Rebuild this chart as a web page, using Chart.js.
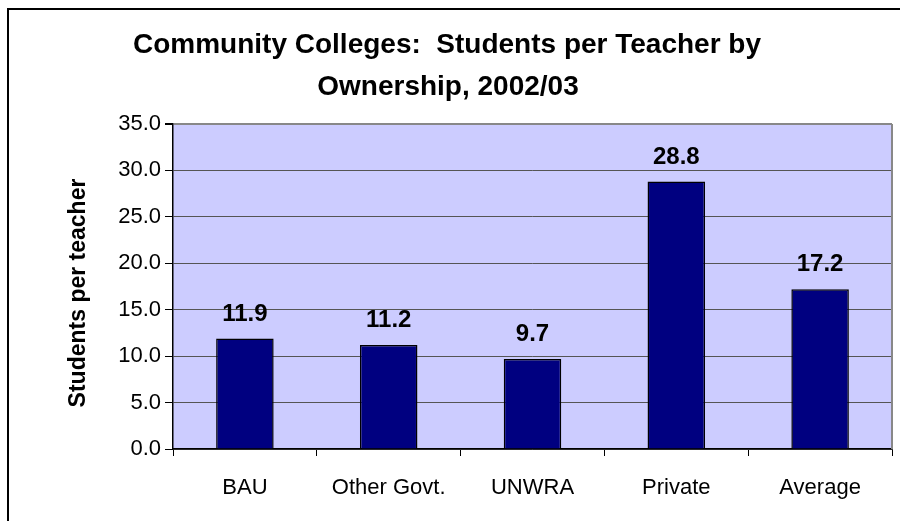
<!DOCTYPE html>
<html>
<head>
<meta charset="utf-8">
<title>Community Colleges: Students per Teacher by Ownership, 2002/03</title>
<script src="https://cdn.jsdelivr.net/npm/chart.js@4.4.0/dist/chart.umd.min.js"></script>
<style>
    html, body { margin: 0; padding: 0; background: #ffffff; }
    #chart { display: block; }
</style>
</head>
<body>
<canvas id="chart" width="900" height="521"></canvas>
<script>
const categories = ["BAU", "Other Govt.", "UNWRA", "Private", "Average"];
const studentsPerTeacher = [11.9, 11.2, 9.7, 28.8, 17.2];
const yTicks = [0, 5, 10, 15, 20, 25, 30, 35];
const titleLines = ["Community Colleges:  Students per Teacher by", "Ownership, 2002/03"];
const yAxisTitle = "Students per teacher";

const FONT = "'Liberation Sans', Arial, sans-serif";

// frame, plot fill, headings and value labels
const decorations = {
    id: "decorations",
    beforeDraw(chart) {
        const { ctx, chartArea: a } = chart;
        ctx.save();
        ctx.fillStyle = "#ffffff";
        ctx.fillRect(0, 0, chart.width, chart.height);
        // outer frame
        ctx.strokeStyle = "#000000";
        ctx.lineWidth = 2;
        ctx.strokeRect(8, 9, chart.width + 20, chart.height + 20);
        // plot background
        ctx.fillStyle = "#ccccff";
        ctx.fillRect(a.left, a.top, a.right - a.left, a.bottom - a.top);
        ctx.restore();
    },
    afterDatasetsDraw(chart) {
        const { ctx, chartArea: a } = chart;
        ctx.save();
        // right edge of the plot
        ctx.strokeStyle = "#888888";
        ctx.lineWidth = 2;
        ctx.beginPath();
        ctx.moveTo(a.right, a.top);
        ctx.lineTo(a.right, a.bottom);
        ctx.stroke();

        // value labels
        ctx.fillStyle = "#000000";
        ctx.font = "bold 24px " + FONT;
        ctx.textAlign = "center";
        ctx.textBaseline = "alphabetic";
        chart.getDatasetMeta(0).data.forEach((bar, i) => {
            ctx.fillText(studentsPerTeacher[i].toFixed(1), bar.x, bar.y - 18);
        });
        ctx.restore();
    },
    afterDraw(chart) {
        const { ctx } = chart;
        ctx.save();
        ctx.fillStyle = "#000000";
        ctx.textAlign = "center";
        ctx.textBaseline = "alphabetic";
        ctx.font = "bold 28px " + FONT;
        ctx.fillText(titleLines[0], 447, 53);
        ctx.fillText(titleLines[1], 448, 95);

        ctx.font = "bold 23px " + FONT;
        ctx.translate(79, 293);
        ctx.rotate(-Math.PI / 2);
        ctx.textBaseline = "middle";
        ctx.fillText(yAxisTitle, 0, 0);
        ctx.restore();
    }
};

new Chart(document.getElementById("chart"), {
    type: "bar",
    data: {
        labels: categories,
        datasets: [{
            data: studentsPerTeacher,
            backgroundColor: "#000080",
            borderColor: "#000000",
            borderWidth: 1.5,
            barPercentage: 0.4,
            categoryPercentage: 1.0
        }]
    },
    options: {
        responsive: false,
        devicePixelRatio: 1,
        animation: false,
        layout: { padding: { top: 124, right: 8, bottom: 0, left: 0 } },
        plugins: {
            legend: { display: false },
            tooltip: { enabled: false },
            title: { display: false }
        },
        scales: {
            x: {
                offset: true,
                grid: {
                    display: true,
                    drawOnChartArea: false,
                    offset: true,
                    tickLength: 7,
                    color: "#000000"
                },
                border: { display: true, color: "#000000", width: 1.5 },
                ticks: {
                    color: "#000000",
                    font: { family: FONT, size: 22 },
                    padding: 19,
                    maxRotation: 0
                },
                afterFit(scale) { scale.height = 72; }
            },
            y: {
                min: 0,
                max: 35,
                afterBuildTicks(scale) {
                    scale.ticks = yTicks.map(v => ({ value: v }));
                },
                grid: {
                    color: ctx => (ctx.tick && ctx.tick.value === 35 ? "#888888" : "#555555"),
                    lineWidth: ctx => (ctx.tick && ctx.tick.value === 35 ? 2 : 1),
                    tickLength: 8,
                    tickColor: "#000000"
                },
                border: { display: true, color: "#000000", width: 1.5 },
                ticks: {
                    color: "#000000",
                    font: { family: FONT, size: 22 },
                    padding: 4,
                    callback: v => Number(v).toFixed(1)
                },
                afterFit(scale) { scale.width = 173; }
            }
        }
    },
    plugins: [decorations]
});
</script>
</body>
</html>
